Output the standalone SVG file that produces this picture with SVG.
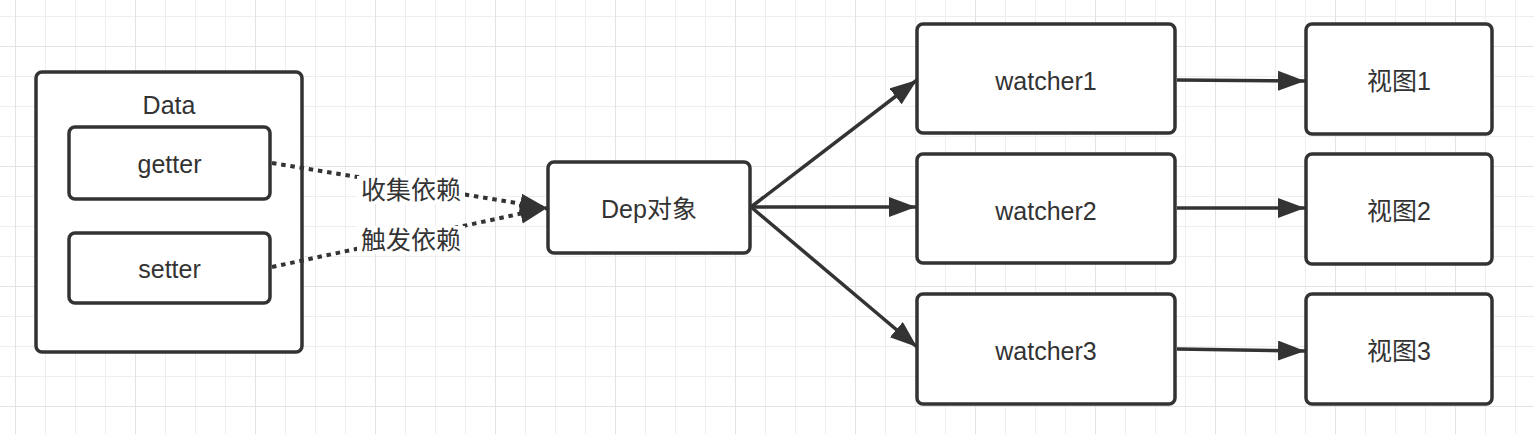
<svg xmlns="http://www.w3.org/2000/svg" width="1534" height="434" viewBox="0 0 1534 434">
  <style>
    .box { fill: #ffffff; stroke: #333333; stroke-width: 3.5; }
    .txt { font-family: "Liberation Sans", "Noto Sans CJK SC", sans-serif; font-size: 25px; fill: #333333; text-anchor: middle; }
    .edge { fill: none; stroke: #333333; stroke-width: 3.5; }
    .dot { fill: none; stroke: #333333; stroke-width: 4; stroke-dasharray: 4.5 4.8; }
    .lblbg { fill: #ffffff; stroke: none; }
  </style>
  <defs>
    <pattern id="grid" patternUnits="userSpaceOnUse" x="15" y="16" width="120" height="120">
      <path d="M30.5 0V120M60.5 0V120M90.5 0V120M0 0.5H120M0 60.5H120M0 90.5H120" stroke="#eeeeee" stroke-width="1" fill="none"/>
      <path d="M0.5 0V120M0 30.5H120" stroke="#e3e3e3" stroke-width="1" fill="none"/>
    </pattern>
    <marker id="arr" markerUnits="userSpaceOnUse" markerWidth="30" markerHeight="22" refX="27" refY="10" orient="auto" viewBox="0 0 30 22">
      <path d="M0,0 L27,10 L0,20 Z" fill="#333333" stroke="none"/>
    </marker>
  </defs>

  <rect x="0" y="0" width="1534" height="434" fill="#ffffff"/>
  <rect x="0" y="0" width="1534" height="434" fill="url(#grid)"/>

  <g id="data">
    <rect class="box" x="36" y="72" width="266" height="280" rx="6"/>
    <text class="txt" x="169" y="114">Data</text>
  </g>
  <g id="getter">
    <rect class="box" x="69" y="127" width="201" height="72" rx="6"/>
    <text class="txt" x="169.5" y="173">getter</text>
  </g>
  <g id="setter">
    <rect class="box" x="69" y="233" width="201" height="70" rx="6"/>
    <text class="txt" x="169.5" y="278">setter</text>
  </g>
  <g id="dep">
    <rect class="box" x="548" y="162" width="202" height="91" rx="6"/>
    <text class="txt" x="649" y="218">Dep对象</text>
  </g>
  <g id="watcher1">
    <rect class="box" x="917" y="24" width="258" height="109" rx="6"/>
    <text class="txt" x="1046" y="90">watcher1</text>
  </g>
  <g id="watcher2">
    <rect class="box" x="917" y="154" width="258" height="109" rx="6"/>
    <text class="txt" x="1046" y="220">watcher2</text>
  </g>
  <g id="watcher3">
    <rect class="box" x="917" y="294" width="258" height="110" rx="6"/>
    <text class="txt" x="1046" y="360">watcher3</text>
  </g>
  <g id="view1">
    <rect class="box" x="1306" y="24" width="186" height="110" rx="6"/>
    <text class="txt" x="1399" y="90">视图1</text>
  </g>
  <g id="view2">
    <rect class="box" x="1306" y="154" width="186" height="110" rx="6"/>
    <text class="txt" x="1399" y="220">视图2</text>
  </g>
  <g id="view3">
    <rect class="box" x="1306" y="294" width="186" height="110" rx="6"/>
    <text class="txt" x="1399" y="360">视图3</text>
  </g>

  <g id="connectors">
    <path class="dot" d="M272,163 L547,208" marker-end="url(#arr)"/>
    <path class="dot" d="M272,267 L547,208" marker-end="url(#arr)"/>
    <rect class="lblbg" x="357" y="176" width="108" height="28"/>
    <text class="txt" x="411" y="199">收集依赖</text>
    <rect class="lblbg" x="357" y="226" width="108" height="28"/>
    <text class="txt" x="411" y="249">触发依赖</text>

    <path class="edge" d="M751,207 L917,80" marker-end="url(#arr)"/>
    <path class="edge" d="M751,207 L916,207" marker-end="url(#arr)"/>
    <path class="edge" d="M751,207 L917,347" marker-end="url(#arr)"/>

    <path class="edge" d="M1177,80 L1305,81" marker-end="url(#arr)"/>
    <path class="edge" d="M1177,208 L1305,208" marker-end="url(#arr)"/>
    <path class="edge" d="M1177,349 L1305,351" marker-end="url(#arr)"/>
  </g>
</svg>
